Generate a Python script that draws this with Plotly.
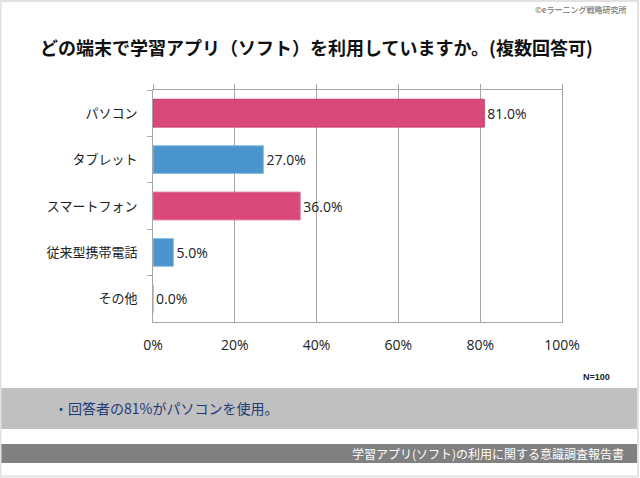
import plotly.graph_objects as go

W, H = 640, 478

categories = ["パソコン", "タブレット", "スマートフォン", "従来型携帯電話", "その他"]
values = [81.0, 27.0, 36.0, 5.0, 0.0]
bar_colors = ["#d9497a", "#4a96cc", "#d9497a", "#4a96cc", "#4a96cc"]
line_colors = ["#c93a6a", "#8cc0e6", "#e27ea2", "#8cc0e6", "#8cc0e6"]
x_ticks = [0, 20, 40, 60, 80, 100]
x_tick_labels = ["0%", "20%", "40%", "60%", "80%", "100%"]

title_text = "どの端末で学習アプリ（ソフト）を利用していますか。(複数回答可)"
summary_text = "・回答者の81%がパソコンを使用。"
footer_text = "学習アプリ(ソフト)の利用に関する意識調査報告書"
credit_text = "©eラーニング戦略研究所"
n_text = "N=100"

JP = "Noto Sans CJK JP"
NUM = "Open Sans, Noto Sans CJK JP"

def px(x):
    return x / W

def py(y):
    return 1 - y / H

fig = go.Figure()
fig.add_trace(go.Bar(
    y=categories, x=values, orientation="h",
    marker=dict(color=bar_colors, line=dict(color=line_colors, width=1)),
    text=[f"{v:.1f}%" for v in values], textposition="outside",
    textfont=dict(family=NUM, size=14, color="#222222"),
    cliponaxis=False, hoverinfo="skip",
))
fig.add_trace(go.Scatter(x=[0, 100], y=[categories[0], categories[0]], xaxis="x2",
                         mode="markers", marker=dict(opacity=0), hoverinfo="skip", showlegend=False))

fig.update_layout(
    template="none",
    width=W, height=H,
    margin=dict(l=0, r=0, t=0, b=0, autoexpand=False),
    paper_bgcolor="white", plot_bgcolor="white",
    showlegend=False, bargap=0.4,
    xaxis=dict(domain=[px(153), px(562)], range=[0, 100], tickvals=x_ticks, ticktext=x_tick_labels,
               showgrid=True, gridcolor="#a6a6a6", gridwidth=1, zeroline=False, automargin=False,
               showline=True, linecolor="#a6a6a6", linewidth=1, mirror=True, ticks="",
               tickfont=dict(family=NUM, size=14, color="#222222"), ticklabelstandoff=10),
    xaxis2=dict(overlaying="x", side="top", matches="x", range=[0, 100], tickvals=x_ticks,
                showticklabels=False, ticks="outside", ticklen=5, tickcolor="#a6a6a6", automargin=False,
                showgrid=False, zeroline=False, showline=False),
    yaxis=dict(domain=[py(322), py(90)], autorange="reversed", type="category", automargin=False,
               showline=True, linecolor="#a6a6a6", linewidth=1, mirror=True,
               ticks="outside", tickson="boundaries", ticklen=5, tickcolor="#a6a6a6",
               showgrid=False, zeroline=False,
               tickfont=dict(family=JP, size=13, color="#222222"), ticklabelstandoff=12),
)

shapes = [
    dict(type="rect", xref="paper", yref="paper", x0=px(1), x1=px(638), y0=py(388), y1=py(429),
         fillcolor="#c0c0c0", line=dict(width=0), layer="below"),
    dict(type="rect", xref="paper", yref="paper", x0=px(1), x1=px(638), y0=py(444), y1=py(463),
         fillcolor="#808080", line=dict(width=0), layer="below"),
    dict(type="rect", xref="paper", yref="paper", x0=px(0.5), x1=px(638), y0=py(1), y1=py(476.5),
         fillcolor="rgba(0,0,0,0)", line=dict(color="#e6e0e2", width=2)),
]
fig.update_layout(shapes=shapes)

annotations = [
    dict(text="<b>" + title_text + "</b>", x=px(316), y=py(47), xanchor="center", yanchor="middle",
         font=dict(family=JP, size=18, color="#111111")),
    dict(text="<b>" + credit_text + "</b>", x=px(628), y=py(9), xanchor="right", yanchor="middle",
         font=dict(family=JP, size=8, color="#8c8c8c")),
    dict(text="<b>" + n_text + "</b>", x=px(612), y=py(377), xanchor="right", yanchor="middle",
         font=dict(family="Liberation Sans", size=9, color="#222222")),
    dict(text=summary_text, x=px(52), y=py(408), xanchor="left", yanchor="middle",
         font=dict(family=JP, size=14, color="#1f3a78")),
    dict(text=footer_text, x=px(626), y=py(453), xanchor="right", yanchor="middle",
         font=dict(family=JP, size=12, color="white")),
]
for a in annotations:
    a.update(xref="paper", yref="paper", showarrow=False)
fig.update_layout(annotations=annotations)

fig.write_html("out.html", config={"displayModeBar": False, "staticPlot": True},
               post_script="document.body.style.margin='0';document.body.style.overflow='hidden';")
